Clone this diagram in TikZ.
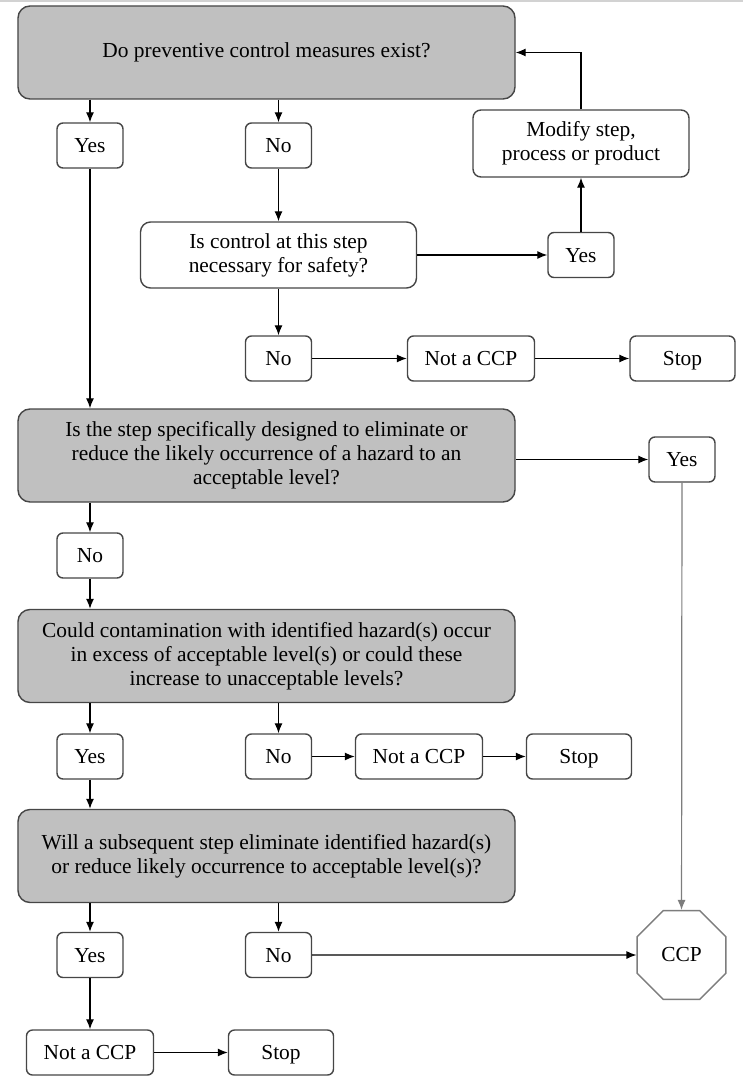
\documentclass[tikz,border=0pt]{standalone}
\usepackage{fontspec}
\setmainfont{Liberation Serif}
\usepackage{tikz}
\usetikzlibrary{shapes.geometric,arrows.meta,positioning}
\definecolor{qgray}{RGB}{192,192,192}
\definecolor{boxline}{RGB}{70,70,70}
\definecolor{ccpline}{RGB}{125,125,125}
\tikzstyle{question} = [rectangle, rounded corners=6pt, minimum width=248.5pt, minimum height=46.5pt, draw=boxline, fill=qgray, align=center, line width=0.7pt]
\tikzstyle{check} = [rectangle, rounded corners=5pt, minimum width=138pt, minimum height=33pt, draw=boxline, fill=white, align=center, line width=0.7pt]
\tikzstyle{action} = [rectangle, rounded corners=4pt, minimum width=108pt, minimum height=33.5pt, draw=boxline, fill=white, align=center, line width=0.7pt]
\tikzstyle{answer} = [rectangle, rounded corners=3pt, minimum width=33pt, minimum height=22.5pt, inner sep=0pt, text height=7pt, text depth=0pt, draw=boxline, fill=white, line width=0.7pt]
\tikzstyle{verdict} = [answer, minimum width=63.5pt]
\tikzstyle{stopbox} = [answer, minimum width=52.5pt]
\tikzstyle{ccpnode} = [regular polygon, regular polygon sides=8, minimum size=48pt, inner sep=0pt, draw=ccpline, fill=white, line width=0.7pt]
\tikzstyle{arrow} = [line width=0.6pt,->,>={Latex[length=5pt,width=4pt]}]

\begin{document}
\begin{tikzpicture}[font=\fontsize{10.7}{12}\selectfont]
\useasboundingbox (-133.25pt,26.25pt) rectangle (238.25pt,-516.75pt);
\fill[gray!35] (-133.25pt,26.25pt) rectangle (238.25pt,25.25pt);
% first question
\node (q1) [question] at (0,0) {Do preventive control measures exist?};
\node (yes1) [answer, node distance=46.5pt, below of=q1, xshift=-88.25pt] {Yes};
\node (no1) [answer, node distance=46.5pt, below of=q1, xshift=6pt] {No};
\node (modify) [action, node distance=151.25pt, right of=no1, yshift=1pt] {Modify step,\\process or product};
\node (q2) [check, node distance=54.75pt, below of=no1] {Is control at this step\\necessary for safety?};
\node (yes2) [answer, node distance=151.25pt, right of=q2] {Yes};
\node (no2) [answer, node distance=51.75pt, below of=q2] {No};
\node (notccp1) [verdict, node distance=96.25pt, right of=no2] {Not a CCP};
\node (stop1) [stopbox, node distance=105.75pt, right of=notccp1] {Stop};
% second question
\node (q3) [question, node distance=201.5pt, below of=q1] {Is the step specifically designed to eliminate or\\reduce the likely occurrence of a hazard to an\\acceptable level?};
\node (yes3) [answer, node distance=207.75pt, right of=q3, yshift=-2pt] {Yes};
\node (no3) [answer, node distance=50pt, below of=q3, xshift=-88.25pt] {No};
% third question
\node (q4) [question, node distance=100.25pt, below of=q3] {Could contamination with identified hazard(s) occur\\in excess of acceptable level(s) or could these\\increase to unacceptable levels?};
\node (yes4) [answer, node distance=50.25pt, below of=q4, xshift=-88.25pt] {Yes};
\node (no4) [answer, node distance=50.25pt, below of=q4, xshift=6pt] {No};
\node (notccp2) [verdict, node distance=70.25pt, right of=no4] {Not a CCP};
\node (stop2) [stopbox, node distance=80pt, right of=notccp2] {Stop};
% fourth question
\node (q5) [question, node distance=100pt, below of=q4] {Will a subsequent step eliminate identified hazard(s)\\or reduce likely occurrence to acceptable level(s)?};
\node (yes5) [answer, node distance=49.5pt, below of=q5, xshift=-88.25pt] {Yes};
\node (no5) [answer, node distance=49.5pt, below of=q5, xshift=6pt] {No};
\node (ccp) [ccpnode, node distance=201.5pt, right of=no5] {CCP};
\node (notccp3) [verdict, node distance=48.75pt, below of=yes5] {Not a CCP};
\node (stop3) [stopbox, node distance=95.5pt, right of=notccp3] {Stop};

\draw [arrow] (q1.south -| yes1) -- (yes1);
\draw [arrow] (q1.south -| no1) -- (no1);
\draw [arrow] (no1) -- (no1 |- q2.north);
\draw [arrow] (q2) -- (yes2);
\draw [arrow] (yes2) -- (modify);
\draw [arrow] (modify.north) |- (q1.east);
\draw [arrow] (q2.south -| no2) -- (no2);
\draw [arrow] (no2) -- (notccp1);
\draw [arrow] (notccp1) -- (stop1);
\draw [arrow] (yes1) -- (yes1 |- q3.north);
\draw [arrow] (q3.east |- yes3) -- (yes3);
\draw [arrow, draw=ccpline] (yes3) -- (ccp);
\draw [arrow] (q3.south -| no3) -- (no3);
\draw [arrow] (no3) -- (no3 |- q4.north);
\draw [arrow] (q4.south -| yes4) -- (yes4);
\draw [arrow] (q4.south -| no4) -- (no4);
\draw [arrow] (no4) -- (notccp2);
\draw [arrow] (notccp2) -- (stop2);
\draw [arrow] (yes4) -- (yes4 |- q5.north);
\draw [arrow] (q5.south -| yes5) -- (yes5);
\draw [arrow] (q5.south -| no5) -- (no5);
\draw [arrow] (no5) -- (ccp);
\draw [arrow] (yes5) -- (notccp3);
\draw [arrow] (notccp3) -- (stop3);
\end{tikzpicture}
\end{document}
